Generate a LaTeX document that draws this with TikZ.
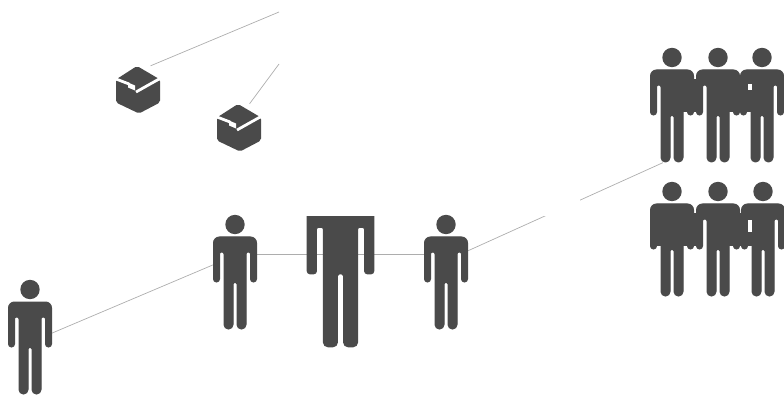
\documentclass[tikz,border=0pt]{standalone}
\usepackage{xcolor}
\usepackage{tikz}
\definecolor{ink}{HTML}{4a4a4a}
\begin{document}
\begin{tikzpicture}[
      x=1pt, y=-1pt,
      personbox/.style={inner sep=0pt, minimum width=43.5pt, minimum height=115pt},
      cubebox/.style={inner sep=0pt, minimum width=44pt, minimum height=47pt},
      link/.style={draw=black!32, line width=0.7pt},
      mass/.style={fill=ink},
      person/.pic={
        \fill[ink] (0,-47.5) circle[radius=9.7];
        \filldraw[ink, line width=1pt] (0,-35) [rounded corners=6pt] -- (21.5,-35) [rounded corners=3pt] -- (21.5,10) -- (15.5,10)
          [rounded corners=2pt] -- (15.5,-20) -- (11,-20) [rounded corners=4.4pt] -- (11,57) -- (2,57)
          [rounded corners=1.9pt] -- (2,10) -- (-2,10) [rounded corners=4.4pt] -- (-2,57) -- (-11,57)
          [rounded corners=2pt] -- (-11,-20) -- (-15.5,-20) [rounded corners=3pt] -- (-15.5,10) -- (-21.5,10)
          [rounded corners=6pt] -- (-21.5,-35) -- cycle;
      },
      cube/.pic={
        \fill[ink, rounded corners=2pt] (-1,-23.5) -- (22,-10) -- (22,13) -- (1,24) -- (-22,13) -- (-22,-10) -- cycle;
        \draw[white, line width=2.8pt] (-22,-10.5) -- (-9,-5.5);
        \draw[white, line width=2.8pt] (-2,2.5) -- (22,-11);
        \fill[white] (-10,-7) -- (-3,-4) -- (-3,1) -- (-10,-2) -- cycle;
      }
    ]
    \useasboundingbox (0,0) rectangle (784,395);
    \node[personbox] (user) at (30,337) {};
    \node[personbox] (mid) at (235,272) {};
    \node[personbox] (peer) at (446,272) {};
    \node[cubebox] (boxa) at (138,89.5) {};
    \node[cubebox] (boxb) at (239,127.5) {};
    \coordinate (enda) at (279,12);
    \coordinate (endb) at (279,64);
    \foreach \n/\x/\y in {topa/672/105, topb/718/105, topc/762/105, lowa/672/239, lowb/718/239, lowc/763/239}
      \node[personbox] (\n) at (\x,\y) {};
    \node[inner sep=0pt, minimum width=67pt, minimum height=178pt] (big) at (340.5,258.4) {};
    \draw[link] (user.10.5) -- (mid.162);
    \draw[link] (mid.38) -- (peer.142);
    \draw[link] (peer.44) -- (topa.261);
    \draw[link] (boxa.62) -- (enda);
    \draw[link] (boxb.66) -- (endb);
    \pic[scale=1.55] at (big) {person};
    \fill[white] (280,0) rectangle (580,216);
    \foreach \n in {user, mid, peer, topa, topb, topc, lowa, lowb, lowc}
      \pic at (\n) {person};
    \pic at (boxa) {cube};
    \pic at (boxb) {cube};
    \fill[mass] (680,79) rectangle (698,112);
    \fill[mass] (728,79) rectangle (752,112);
    \fill[white] (748,84) rectangle (752,90);
    \fill[mass] (655,212) rectangle (662,246);
    \fill[mass] (680,213) rectangle (698,246);
    \fill[mass] (728,213) rectangle (753,246);
    \fill[white] (748,220) rectangle (752,232);
  \end{tikzpicture}
\end{document}
